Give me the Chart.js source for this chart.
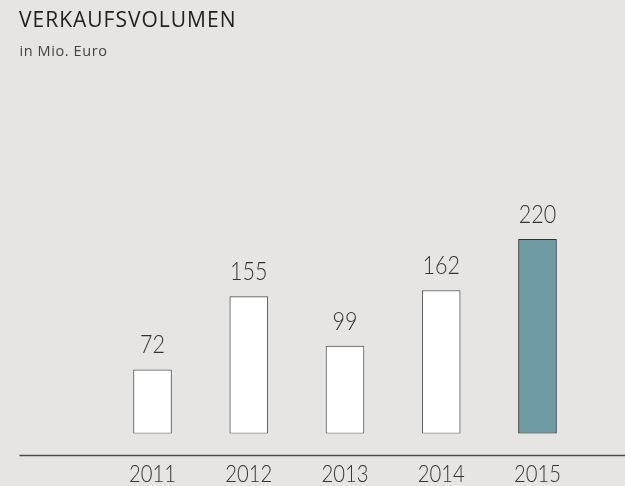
<!DOCTYPE html>
<html>
<head>
<meta charset="utf-8">
<script src="https://cdn.jsdelivr.net/npm/chart.js@4"></script>
<style>
  html, body { margin: 0; padding: 0; background: #e6e5e3; }
  #wrap { position: relative; width: 625px; height: 486px; overflow: hidden; }
  canvas { position: absolute; left: 0; top: 0; }
  .title { position: absolute; left: 19px; top: 8.6px; font: 21px/21px "Open Sans", sans-serif; letter-spacing: 1px; color: #222; white-space: nowrap; }
  .sub { position: absolute; left: 19.5px; top: 42.5px; font: 14.5px/15px "Open Sans", sans-serif; letter-spacing: 0.6px; color: #444; white-space: nowrap; }
</style>
</head>
<body>
<div id="wrap">
  <canvas id="chart" width="625" height="486"></canvas>
  <div class="title">VERKAUFSVOLUMEN</div>
  <div class="sub">in Mio. Euro</div>
</div>
<script>
// Verkaufsvolumen in Mio. Euro
const years = ['2011', '2012', '2013', '2014', '2015'];
const volumes = [72, 155, 99, 162, 220];
const highlightYear = '2015';

const textColor = '#333';
const barFill = '#ffffff';
const barBorder = '#555';
const highlightFill = '#6f9ca4';
const highlightBorder = '#333';

// narrower light text, closer to the original face
function drawText(ctx, txt, x, y, sx) {
  ctx.save();
  ctx.translate(x, y);
  ctx.scale(sx, 1);
  ctx.fillText(txt, 0, 0);
  ctx.restore();
}

// value labels above bars, year labels under baseline, baseline across the page
const labelsPlugin = {
  id: 'labels',
  afterDatasetsDraw(chart) {
    const ctx = chart.ctx;
    const xs = chart.scales.x;
    const meta = chart.getDatasetMeta(0);
    ctx.save();
    ctx.fillStyle = textColor;
    ctx.textAlign = 'center';
    ctx.textBaseline = 'alphabetic';
    ctx.font = '300 25px Lato, "Open Sans", sans-serif';
    meta.data.forEach((bar, i) => {
      drawText(ctx, String(volumes[i]), bar.x, bar.y - 16.5, 0.86);
    });
    ctx.font = '300 22.5px Lato, "Open Sans", sans-serif';
    years.forEach((y, i) => {
      drawText(ctx, y, xs.getPixelForValue(i), chart.chartArea.bottom + 48, 0.9);
    });
    // baseline
    const ly = chart.chartArea.bottom + 22;
    ctx.strokeStyle = '#4a4a4a';
    ctx.lineWidth = 1.5;
    ctx.beginPath();
    ctx.moveTo(19.5, ly);
    ctx.lineTo(chart.width, ly);
    ctx.stroke();
    ctx.restore();
  }
};

new Chart(document.getElementById('chart'), {
  type: 'bar',
  data: {
    labels: years,
    datasets: [{
      data: volumes,
      backgroundColor: years.map((y) => (y === highlightYear ? highlightFill : barFill)),
      borderColor: years.map((y) => (y === highlightYear ? highlightBorder : barBorder)),
      borderWidth: 1,
      borderSkipped: false,
      barThickness: 38,
    }],
  },
  options: {
    responsive: false,
    animation: false,
    layout: { padding: { left: 104.4, right: 39.4, top: 212.8, bottom: 52.5 } },
    plugins: { legend: { display: false }, tooltip: { enabled: false } },
    scales: {
      x: { display: false },
      y: { display: false, min: 0, max: 250 },
    },
  },
  plugins: [labelsPlugin],
});
</script>
</body>
</html>
